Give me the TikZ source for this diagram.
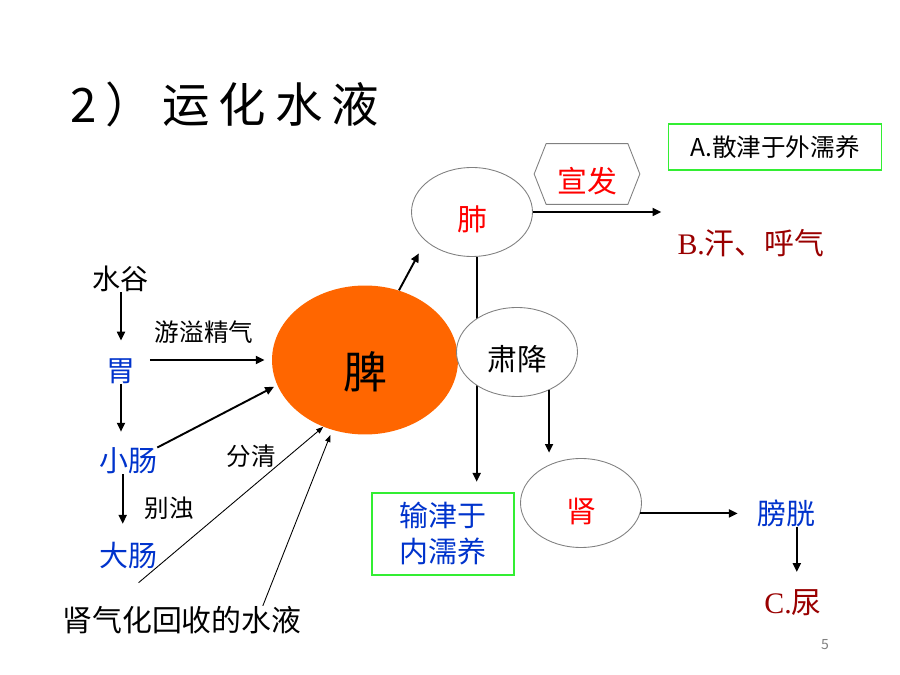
\documentclass[tikz,border=0pt]{standalone}
\usepackage{fontspec}
\setmainfont{Noto Sans CJK SC}
\newfontfamily\latinserif{Liberation Serif}
\usepackage{xcolor}
\usepackage{tikz}
\usetikzlibrary{positioning, shapes.geometric, arrows.meta}

\definecolor{spleenorange}{HTML}{FF6600}
\definecolor{organblue}{HTML}{0033CC}
\definecolor{resultred}{HTML}{990000}
\definecolor{boxgreen}{HTML}{33EE33}

\begin{document}
\begin{tikzpicture}[
    x=0.02cm, y=-0.02cm,
    arr/.style={-{Triangle[length=5pt, width=4.5pt]}, line width=1.1pt},
    thinarr/.style={-{Triangle[length=4pt, width=3pt]}, line width=0.5pt},
    tag/.style={inner sep=0, font=\fontsize{14}{16}\selectfont},
    organtext/.style={inner sep=0, text=organblue, font=\fontsize{16.5}{19}\selectfont},
    result/.style={inner sep=0, text=resultred, font=\fontsize{17}{20}\selectfont},
    organ/.style={ellipse, draw=gray, fill=white, line width=0.5pt, minimum width=2.42cm,
        minimum height=1.78cm, inner sep=0, text height=23pt, font=\fontsize{17}{20}\selectfont},
    spleen/.style={ellipse, fill=spleenorange, minimum width=3.72cm, minimum height=2.98cm,
        inner sep=0, text height=35pt, font=\fontsize{25}{28}\selectfont},
    greenbox/.style={rectangle, draw=boxgreen, line width=0.8pt, inner sep=0, align=center}
]
\useasboundingbox (0,0) rectangle (900,675);

% Title
\node[anchor=west, inner sep=0, font=\fontsize{27}{31}\selectfont\addfontfeature{LetterSpace=19}] (title) at (70,104) {2）运化水液};

% Left column
\node[inner sep=0, font=\fontsize{16}{19}\selectfont] (shuigu) at (121,279) {水谷};
\node[organtext] (wei) at (121,371) {胃};
\node[organtext] (xiaochang) at (128,461) {小肠};
\node[organtext] (dachang) at (128,555) {大肠};
\node[tag] (youyi) at (204,332) {游溢精气};
\node[tag] (fenqing) at (251,456) {分清};
\node[tag] (biezhuo) at (169,508) {别浊};
\node[inner sep=0, font=\fontsize{17}{20}\selectfont] (shenqi) at (182,620) {肾气化回收的水液};

% Spleen and lung
\node[spleen] (pi) at (365,360) {脾};
\node[organ, text=red] (fei) at (472,212) {肺};
\node[inner sep=0, minimum width=2.1cm, minimum height=1.2cm, text height=23pt, text=red,
    font=\fontsize{17}{20}\selectfont] (xuanfa) at (587,174) {宣发};
\draw[gray, line width=0.5pt] (xuanfa.west) -- ([xshift=6.8pt]xuanfa.north west)
    -- ([xshift=-6.8pt]xuanfa.north east) -- (xuanfa.east)
    -- ([xshift=-6.8pt]xuanfa.south east) -- ([xshift=6.8pt]xuanfa.south west) -- cycle;
\node[greenbox, minimum width=4.26cm, minimum height=0.92cm, font=\fontsize{14}{16}\selectfont] (sanjin) at (775,147) {A.散津于外濡养};
\node[result] (sweat) at (751,243) {{\latinserif B.}汗、呼气};

% Inner path
\node[greenbox, minimum width=2.84cm, minimum height=1.64cm, text=organblue,
    font=\fontsize{16.5}{20.5}\selectfont] (shujin) at (443,534) {输津于\\内濡养};
\draw[arr, shorten >=6pt] (fei.-84) -- (fei.-84 |- shujin.north);
\node[organ] (sujiang) at (517,352) {肃降};
\node[organ, text=red] (shen) at (581,503) {肾};
\node[organtext] (pangguang) at (786,513) {膀胱};
\node[result] (urine) at (793,603) {{\latinserif C.}尿};
\node[inner sep=0, text=gray, font=\fontsize{8}{10}\selectfont] (page) at (825,645) {5};

% Edges
\draw[arr, shorten >=10pt] (shuigu.south) -- (wei.north);
\draw[arr, shorten >=9pt] (wei.south) -- (wei.south |- xiaochang.north);
\draw[arr, shorten >=10pt] ([xshift=-3pt]xiaochang.south) -- ([xshift=-3pt]dachang.north);
\draw[arr, shorten <=8pt, shorten >=4pt] (wei.east |- pi.west) -- (pi.west);
\draw[arr, shorten >=2pt] (xiaochang.north east) -- (pi.196);
\draw[thinarr] ([xshift=6pt, yshift=-8pt]dachang.south) -- (pi.238);
\draw[thinarr, shorten >=3pt] ([xshift=46pt]shenqi.north) -- (pi.245);
\draw[arr, shorten >=8pt] (pi.64) -- (fei.212);
\draw[arr, shorten >=9pt] (fei.east) -- (fei.east -| sweat.west);
\draw[arr, shorten >=3pt] (sujiang.-50) -- (sujiang.-50 |- shen.north);
\draw[arr, shorten >=10.8pt] (shen.-10) -- (shen.-10 -| pangguang.west);
\draw[arr, shorten >=10pt] (pangguang.-52) -- (pangguang.-52 |- urine.north);

\end{tikzpicture}
\end{document}
